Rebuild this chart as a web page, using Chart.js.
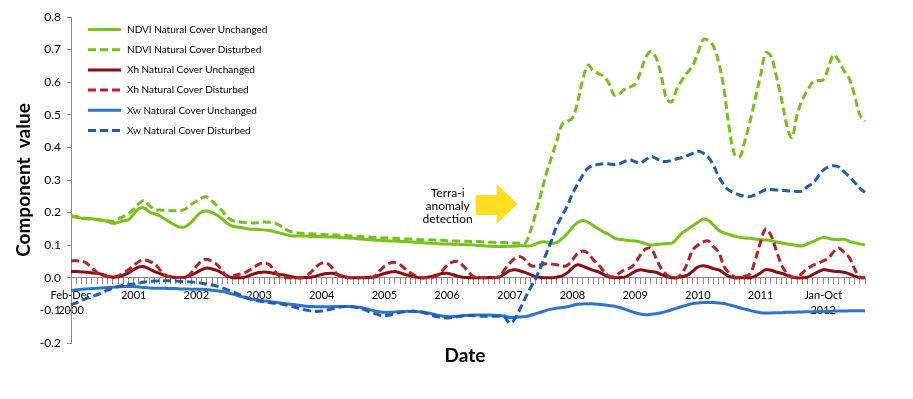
<!DOCTYPE html>
<html><head><meta charset="utf-8">
<script src="https://cdn.jsdelivr.net/npm/chart.js@4.4.0/dist/chart.umd.min.js"></script>
<style>html,body{margin:0;padding:0;background:#fff;}#wrap{width:913px;height:399px;}</style>
</head><body><div id="wrap"><canvas id="c" width="913" height="399"></canvas></div>
<script>
// ---- categories: monthly, Feb 2000 .. Oct 2012 (153 months)
const MONTH_NAMES = ['Jan','Feb','Mar','Apr','May','Jun','Jul','Aug','Sep','Oct','Nov','Dec'];
const months = [];
for (let k = 0; k < 153; k++) { months.push(MONTH_NAMES[(1 + k) % 12] + ' ' + (2000 + Math.floor((1 + k) / 12))); }

// ---- x tick labels (one every 12 months)
const yearTickLabels = [['Feb-Dec','2000'],'2001','2002','2003','2004','2005','2006','2007','2008','2009','2010','2011',['Jan-Oct','2012']];
const yTickValues = [-0.2,-0.1,0.0,0.1,0.2,0.3,0.4,0.5,0.6,0.7,0.8];

// ---- series values
const ndviUnchanged = [
0.188,0.186,0.183,0.181,0.181,0.178,0.176,0.173,0.167,0.170,
0.175,0.178,0.195,0.212,0.214,0.202,0.196,0.190,0.180,0.170,
0.161,0.155,0.158,0.170,0.188,0.202,0.205,0.200,0.192,0.180,
0.166,0.158,0.155,0.153,0.150,0.149,0.148,0.147,0.145,0.141,
0.137,0.133,0.129,0.128,0.128,0.128,0.127,0.127,0.126,0.125,
0.125,0.124,0.123,0.122,0.121,0.120,0.118,0.117,0.116,0.115,
0.114,0.113,0.113,0.112,0.111,0.110,0.109,0.108,0.107,0.106,
0.105,0.104,0.104,0.103,0.103,0.102,0.101,0.101,0.099,0.098,
0.097,0.096,0.096,0.096,0.097,0.097,0.098,0.098,0.098,0.104,
0.110,0.110,0.106,0.108,0.120,0.135,0.155,0.170,0.176,0.170,
0.160,0.150,0.140,0.133,0.122,0.118,0.116,0.114,0.113,0.110,
0.104,0.101,0.102,0.104,0.105,0.106,0.120,0.138,0.148,0.160,
0.170,0.180,0.176,0.162,0.146,0.138,0.133,0.128,0.124,0.122,
0.121,0.119,0.117,0.116,0.114,0.110,0.107,0.104,0.102,0.099,
0.098,0.104,0.111,0.118,0.124,0.121,0.118,0.117,0.118,0.112,
0.107,0.104,0.101];
const ndviDisturbed = [
0.190,0.188,0.185,0.182,0.181,0.179,0.177,0.175,0.173,0.180,
0.188,0.196,0.210,0.228,0.237,0.222,0.210,0.208,0.207,0.206,
0.206,0.206,0.212,0.225,0.235,0.245,0.248,0.235,0.220,0.205,
0.185,0.175,0.172,0.170,0.168,0.168,0.170,0.171,0.170,0.168,
0.160,0.150,0.142,0.139,0.137,0.136,0.135,0.134,0.133,0.132,
0.132,0.131,0.130,0.129,0.128,0.127,0.126,0.125,0.124,0.123,
0.122,0.122,0.121,0.120,0.119,0.119,0.118,0.117,0.117,0.116,
0.115,0.115,0.114,0.113,0.113,0.112,0.112,0.111,0.111,0.110,
0.109,0.109,0.108,0.108,0.107,0.107,0.106,0.107,0.145,0.200,
0.260,0.320,0.370,0.420,0.470,0.480,0.490,0.540,0.610,0.652,
0.635,0.626,0.618,0.595,0.560,0.565,0.578,0.585,0.594,0.630,
0.675,0.694,0.675,0.620,0.550,0.540,0.580,0.607,0.630,0.650,
0.690,0.730,0.728,0.710,0.660,0.580,0.460,0.380,0.370,0.420,
0.480,0.550,0.620,0.690,0.680,0.620,0.550,0.470,0.430,0.500,
0.546,0.575,0.600,0.605,0.607,0.645,0.684,0.665,0.635,0.610,
0.560,0.500,0.480];
const xhUnchanged = [
0.019,0.019,0.018,0.017,0.015,0.014,0.010,0.005,0.002,0.003,
0.008,0.015,0.025,0.033,0.034,0.027,0.019,0.013,0.007,0.003,
0.001,0.001,0.002,0.008,0.016,0.025,0.030,0.027,0.022,0.014,
0.004,0.000,0.000,0.001,0.006,0.012,0.016,0.018,0.016,0.013,
0.010,0.008,0.004,0.001,0.000,0.001,0.002,0.006,0.010,0.013,
0.014,0.010,0.005,0.001,0.000,0.000,0.001,0.001,0.002,0.008,
0.013,0.017,0.019,0.015,0.010,0.006,0.002,0.000,0.001,0.004,
0.009,0.013,0.014,0.010,0.005,0.002,0.001,0.000,0.000,0.000,
0.001,0.001,0.002,0.012,0.022,0.025,0.021,0.016,0.010,0.003,
0.001,0.000,0.000,0.002,0.006,0.015,0.030,0.040,0.035,0.029,
0.023,0.018,0.010,0.002,0.000,0.001,0.002,0.010,0.020,0.025,
0.022,0.019,0.017,0.010,0.004,0.000,0.001,0.003,0.008,0.020,
0.033,0.037,0.034,0.028,0.024,0.014,0.004,0.000,0.000,0.000,
0.000,0.005,0.015,0.025,0.023,0.018,0.014,0.008,0.002,0.000,
0.000,0.002,0.010,0.018,0.025,0.023,0.020,0.019,0.017,0.012,
0.005,0.001,0.000];
const xhDisturbed = [
0.052,0.052,0.051,0.045,0.030,0.016,0.008,0.004,0.003,0.006,
0.013,0.025,0.038,0.050,0.055,0.050,0.043,0.025,0.008,0.003,
0.001,0.001,0.002,0.015,0.035,0.052,0.057,0.050,0.040,0.020,
0.004,0.005,0.010,0.014,0.022,0.032,0.042,0.045,0.040,0.020,
0.004,0.001,0.000,0.000,0.000,0.005,0.018,0.035,0.045,0.045,
0.030,0.010,0.002,0.001,0.000,0.000,0.001,0.002,0.004,0.020,
0.035,0.045,0.047,0.040,0.027,0.015,0.005,0.000,0.000,0.001,
0.005,0.020,0.038,0.048,0.050,0.038,0.020,0.004,0.001,0.000,
0.000,0.000,0.005,0.025,0.045,0.060,0.065,0.055,0.038,0.036,
0.040,0.043,0.042,0.040,0.036,0.038,0.055,0.075,0.082,0.075,
0.055,0.040,0.020,0.005,0.005,0.015,0.025,0.030,0.045,0.070,
0.088,0.091,0.060,0.028,0.010,0.001,0.000,0.015,0.045,0.085,
0.100,0.110,0.113,0.095,0.078,0.035,0.015,0.003,0.000,0.005,
0.012,0.055,0.110,0.150,0.130,0.085,0.040,0.015,0.003,0.001,
0.015,0.028,0.038,0.045,0.052,0.060,0.080,0.091,0.078,0.062,
0.028,0.002,0.000];
const xwUnchanged = [
-0.039,-0.037,-0.035,-0.034,-0.033,-0.032,-0.031,-0.030,-0.029,-0.028,
-0.027,-0.027,-0.027,-0.028,-0.030,-0.031,-0.032,-0.032,-0.032,-0.033,
-0.033,-0.034,-0.034,-0.035,-0.035,-0.035,-0.036,-0.038,-0.040,-0.042,
-0.046,-0.050,-0.055,-0.059,-0.063,-0.066,-0.069,-0.071,-0.073,-0.075,
-0.077,-0.079,-0.081,-0.083,-0.085,-0.087,-0.088,-0.089,-0.089,-0.089,
-0.088,-0.088,-0.088,-0.088,-0.089,-0.090,-0.093,-0.097,-0.101,-0.104,
-0.106,-0.106,-0.105,-0.104,-0.103,-0.103,-0.103,-0.104,-0.107,-0.110,
-0.114,-0.117,-0.119,-0.119,-0.118,-0.116,-0.115,-0.114,-0.114,-0.114,
-0.114,-0.115,-0.116,-0.117,-0.122,-0.121,-0.120,-0.119,-0.115,-0.110,
-0.105,-0.100,-0.096,-0.093,-0.091,-0.089,-0.085,-0.081,-0.080,-0.080,
-0.080,-0.081,-0.083,-0.085,-0.087,-0.091,-0.096,-0.102,-0.107,-0.111,
-0.113,-0.112,-0.110,-0.107,-0.103,-0.098,-0.093,-0.088,-0.083,-0.079,
-0.077,-0.076,-0.076,-0.076,-0.077,-0.079,-0.083,-0.087,-0.092,-0.096,
-0.100,-0.104,-0.107,-0.108,-0.108,-0.107,-0.107,-0.106,-0.106,-0.105,
-0.105,-0.104,-0.104,-0.103,-0.103,-0.103,-0.102,-0.102,-0.102,-0.101,
-0.101,-0.101,-0.101];
const xwDisturbed = [
-0.083,-0.077,-0.070,-0.063,-0.057,-0.052,-0.045,-0.038,-0.032,-0.027,
-0.023,-0.021,-0.019,-0.016,-0.013,-0.011,-0.010,-0.009,-0.009,-0.009,
-0.010,-0.011,-0.012,-0.013,-0.014,-0.017,-0.019,-0.022,-0.026,-0.031,
-0.037,-0.043,-0.050,-0.057,-0.064,-0.068,-0.071,-0.074,-0.076,-0.078,
-0.080,-0.083,-0.087,-0.091,-0.095,-0.099,-0.102,-0.103,-0.102,-0.099,
-0.095,-0.091,-0.089,-0.088,-0.089,-0.092,-0.097,-0.103,-0.109,-0.114,
-0.116,-0.114,-0.110,-0.106,-0.104,-0.103,-0.103,-0.105,-0.109,-0.114,
-0.119,-0.122,-0.123,-0.122,-0.119,-0.117,-0.116,-0.116,-0.117,-0.118,
-0.118,-0.118,-0.118,-0.120,-0.139,-0.125,-0.095,-0.060,-0.030,0.000,
0.035,0.075,0.115,0.160,0.190,0.220,0.258,0.288,0.316,0.337,
0.344,0.348,0.350,0.349,0.347,0.350,0.357,0.362,0.356,0.352,
0.362,0.372,0.366,0.358,0.357,0.360,0.365,0.369,0.375,0.382,
0.388,0.383,0.370,0.345,0.310,0.285,0.268,0.260,0.254,0.250,
0.249,0.255,0.263,0.270,0.271,0.269,0.268,0.267,0.266,0.265,
0.266,0.280,0.290,0.310,0.330,0.340,0.344,0.340,0.325,0.310,
0.293,0.275,0.262];

// ---- annotation anchor (data coordinates: category index, value)
const annotationTip = { index: 85.5, value: 0.226 };
const annotationText = ['Terra-i', 'anomaly', 'detection'];

// ---- styles
const FONT = 'Lato';
const series = [
  { label: 'NDVI Natural Cover Unchanged', data: ndviUnchanged, color: '#78C11F', dash: [] },
  { label: 'NDVI Natural Cover Disturbed', data: ndviDisturbed, color: '#74C01C', dash: [8, 4] },
  { label: 'Xh Natural Cover Unchanged',   data: xhUnchanged,   color: '#8E0B0B', dash: [] },
  { label: 'Xh Natural Cover Disturbed',   data: xhDisturbed,   color: '#B02626', dash: [8, 4] },
  { label: 'Xw Natural Cover Unchanged',   data: xwUnchanged,   color: '#2F74CC', dash: [] },
  { label: 'Xw Natural Cover Disturbed',   data: xwDisturbed,   color: '#1F5DAD', dash: [8, 4] }
];

const overlay = {
  id: 'overlay',
  afterDraw(chart) {
    const ctx = chart.ctx, xs = chart.scales.x, ys = chart.scales.y;
    ctx.save();
    // legend
    series.forEach((s, k) => {
      const y = 29.5 + k * 20.2;
      ctx.beginPath();
      ctx.strokeStyle = s.color; ctx.lineWidth = 3; ctx.lineCap = 'butt';
      ctx.setLineDash(s.dash);
      ctx.moveTo(88, y); ctx.lineTo(121, y); ctx.stroke();
      ctx.setLineDash([]);
      ctx.fillStyle = '#000'; ctx.font = '10px ' + FONT;
      ctx.textAlign = 'left'; ctx.textBaseline = 'middle';
      ctx.fillText(s.label, 127, y);
    });
    // arrow
    const tx = xs.getPixelForValue(annotationTip.index), ty = ys.getPixelForValue(annotationTip.value);
    ctx.beginPath();
    ctx.moveTo(tx - 42, ty - 9); ctx.lineTo(tx - 21, ty - 9); ctx.lineTo(tx - 21, ty - 20);
    ctx.lineTo(tx, ty); ctx.lineTo(tx - 21, ty + 20); ctx.lineTo(tx - 21, ty + 11);
    ctx.lineTo(tx - 42, ty + 11); ctx.closePath();
    ctx.fillStyle = '#FFDD22'; ctx.fill();
    // annotation text
    ctx.fillStyle = '#000'; ctx.font = '12px ' + FONT; ctx.textAlign = 'center'; ctx.textBaseline = 'middle';
    annotationText.forEach((t, k) => ctx.fillText(t, tx - 70, ty - 10.5 + k * 13));
    // x axis title
    ctx.font = 'bold 19px ' + FONT; ctx.textAlign = 'center'; ctx.textBaseline = 'middle';
    ctx.fillText('Date', 465, 356);
    ctx.restore();
  }
};

new Chart(document.getElementById('c'), {
  type: 'line',
  data: {
    labels: months,
    datasets: series.map((s, k) => ({
      label: s.label, data: s.data, borderColor: s.color, backgroundColor: s.color,
      borderDash: s.dash, borderWidth: 3, pointRadius: 0, tension: 0.35, fill: false,
      order: series.length - k
    }))
  },
  options: {
    responsive: false, animation: false, devicePixelRatio: 1,
    layout: { padding: { left: 0, top: 17, right: 48, bottom: 56 } },
    plugins: { legend: { display: false }, tooltip: { enabled: false }, title: { display: false } },
    scales: {
      x: {
        type: 'category', position: { y: 0 }, offset: false,
        grid: { display: true, drawOnChartArea: false, drawTicks: true, tickLength: 6, color: '#8A8A8A', lineWidth: 1 },
        border: { display: true, color: '#8A8A8A', width: 1 },
        ticks: { autoSkip: false, maxRotation: 0, minRotation: 0, padding: 4, color: '#000',
          font: { family: FONT, size: 11, lineHeight: 1.4 },
          callback: (v, i) => (i % 12 === 0 ? yearTickLabels[i / 12] : '') }
      },
      y: {
        type: 'linear', position: 'left', min: -0.2, max: 0.8,
        afterBuildTicks: (s) => { s.ticks = yTickValues.map(v => ({ value: v })); },
        ticks: { padding: 6, color: '#000', font: { family: FONT, size: 12 },
          callback: (v) => (Math.abs(v) < 1e-9 ? '0.0' : Number(v).toFixed(1)) },
        grid: { drawOnChartArea: false, drawTicks: true, tickLength: 4, color: '#8A8A8A' },
        border: { display: true, color: '#8A8A8A', width: 1 },
        title: { display: true, text: 'Component  value', color: '#000',
          font: { family: FONT, size: 19, weight: 'bold' }, padding: { top: 12, bottom: 0 } },
        afterFit: (s) => { s.width = 71; }
      }
    }
  },
  plugins: [overlay]
});
</script></body></html>
